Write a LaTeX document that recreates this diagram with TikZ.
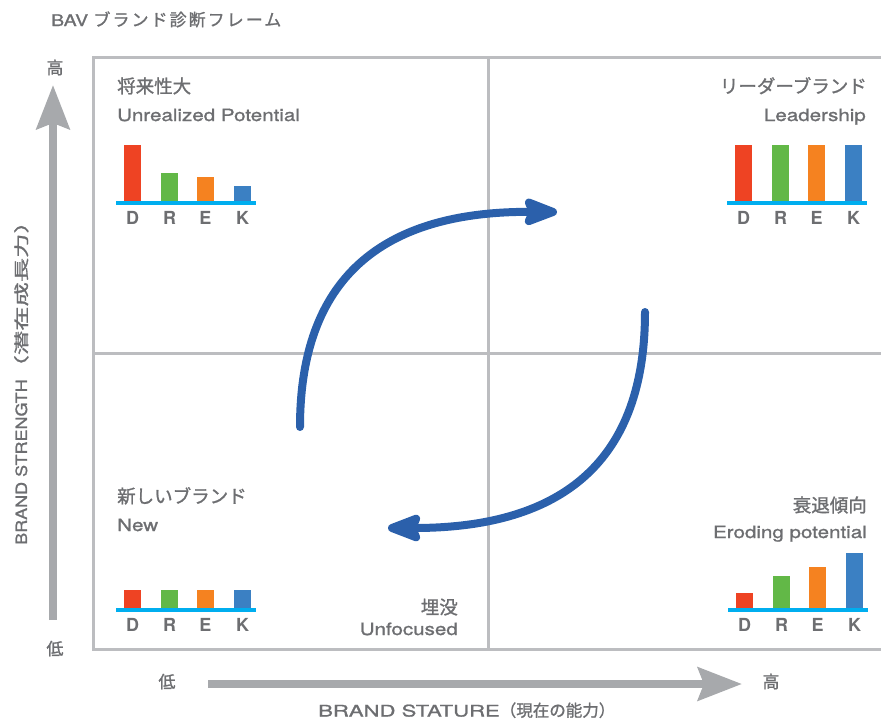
\documentclass[tikz,border=0pt]{standalone}
\usepackage{fontspec}
\usepackage{graphicx}
\setmainfont{TeX Gyre Heros}
\newfontfamily\jp[FakeBold=1.2]{Noto Sans CJK JP}
\newfontfamily\jptitle[FakeBold=1.2,LetterSpace=12]{Noto Sans CJK JP}
\newfontfamily\wide[FakeStretch=1.21,FakeBold=1.2]{TeX Gyre Heros}
\newfontfamily\wider[FakeStretch=1.38,FakeBold=1.2]{TeX Gyre Heros}
\newfontfamily\slight[FakeStretch=1.16,FakeBold=1.2]{TeX Gyre Heros}
\usetikzlibrary{arrows.meta}
\definecolor{txt}{HTML}{6D6E71}
\definecolor{frame}{HTML}{BCBDC0}
\definecolor{axisgray}{HTML}{A7A9AC}
\definecolor{blueA}{HTML}{2B60AB}
\definecolor{bD}{HTML}{EE4323}
\definecolor{bR}{HTML}{62B847}
\definecolor{bE}{HTML}{F58220}
\definecolor{bK}{HTML}{3B80C3}
\definecolor{cyanB}{HTML}{00AEEF}
\tikzset{
  gridline/.style={draw=frame, line width=3pt},
  jptext/.style={inner sep=0pt, text=txt, font=\jp\fontsize{18.5}{20}\selectfont},
  entext/.style={inner sep=0pt, text=txt, font=\wide\fontsize{17}{20}\selectfont},
  axisjp/.style={inner sep=0pt, text=txt, font=\jp\fontsize{17}{20}\selectfont},
  labelfont/.style={inner sep=0pt, text=txt, font=\bfseries\fontsize{18}{20}\selectfont},
  cyanline/.style={draw=cyanB, line width=4pt},
  bluearrow/.style={draw=blueA, line width=8pt, line cap=round,
    -{Stealth[length=42pt, width=31pt, inset=6pt, round]}},
  grayarrow/.style={draw=axisgray, line width=8pt,
    -{Stealth[length=44pt, width=33pt, inset=6pt]}},
}
\newcommand\drek[7]{%
  \foreach \off/\h/\c/\l in {8/#3/bD/D,45/#4/bR/R,81/#5/bE/E,118/#6/bK/K}{
    \fill[\c] (#1+\off, #2-1) rectangle ++(17,-\h);
    \node[labelfont, anchor=base] (#7\l) at (#1+\off+8.5, #2+21) {\l};
  }
  \draw[cyanline] (#1,#2) -- ++(140,0);
}
\begin{document}
\begin{tikzpicture}[x=1pt, y=-1pt]
\useasboundingbox (0,0) rectangle (881,720);
% frame
\draw[gridline] (881,57) -- (93,57) -- (93,649) -- (881,649);
\draw[gridline] (488,57) -- (488,649);
\draw[gridline] (93,353) -- (881,353);
% title
\node[anchor=base west, inner sep=0pt, text=txt, font=\wide\fontsize{16}{20}\selectfont] (title) at (51,26) {BAV {\jptitle\fontsize{17}{20}\selectfont ブランド診断フレーム}};
% quadrant texts
\node[jptext, anchor=base west] (tlj) at (117,93) {将来性大};
\node[entext, anchor=base west] (tle) at (117,121) {Unrealized Potential};
\node[jptext, anchor=base east] (trj) at (867,93) {リーダーブランド};
\node[entext, anchor=base east] (tre) at (866,121) {Leadership};
\node[jptext, anchor=base west] (blj) at (117,503) {新しいブランド};
\node[entext, anchor=base west] (ble) at (117,531) {New};
\node[jptext, anchor=base east] (brj) at (867,512) {衰退傾向};
\node[entext, anchor=base east] (bre) at (867,538) {Eroding potential};
\node[jptext, anchor=base east] (bmj) at (458,614) {埋没};
\node[entext, anchor=base east] (bme) at (458,635) {Unfocused};
% bars
\drek{116}{203}{57}{29}{25}{16}{tl}
\drek{727}{203}{57}{57}{57}{57}{tr}
\drek{116}{610}{19}{19}{19}{19}{bl}
\drek{728}{610}{16}{33}{42}{56}{br}
% blue cycle arrows
\coordinate (a1s) at (300,427);
\coordinate (a1e) at (557,212);
\coordinate (a2s) at (645,312);
\coordinate (a2e) at (388,528);
\draw[bluearrow] (a1s) .. controls (300,280) and (380,211) .. (a1e);
\draw[bluearrow] (a2s) .. controls (645,459) and (565,528) .. (a2e);
% axes
\node[axisjp, anchor=base] (yhigh) at (55,74) {高};
\node[axisjp, anchor=base] (ylow) at (55,655) {低};
\node[axisjp, anchor=base] (xlow) at (167,688) {低};
\node[axisjp, anchor=base] (xhigh) at (771,688) {高};
\coordinate (ys) at (53,620);
\coordinate (ye) at (53,85);
\coordinate (xs) at (208,684);
\coordinate (xe) at (742,684);
\draw[grayarrow] (ys) -- (ye);
\draw[grayarrow] (xs) -- (xe);
\node[inner sep=0pt, text=txt, anchor=base west] (xlab) at (318,716.5) {{\wider\fontsize{16}{20}\selectfont BRAND STATURE}{\jp\fontsize{16.5}{20}\selectfont （現在の能力）}};
\node[inner sep=0pt, text=txt, anchor=base west, rotate=90] (ylab) at (27,545) {{\slight\fontsize{15.5}{20}\selectfont BRAND STRENGTH}\scalebox{1.62}[1]{\jp\fontsize{15}{20}\selectfont （潜在成長力）}};
\end{tikzpicture}
\end{document}
